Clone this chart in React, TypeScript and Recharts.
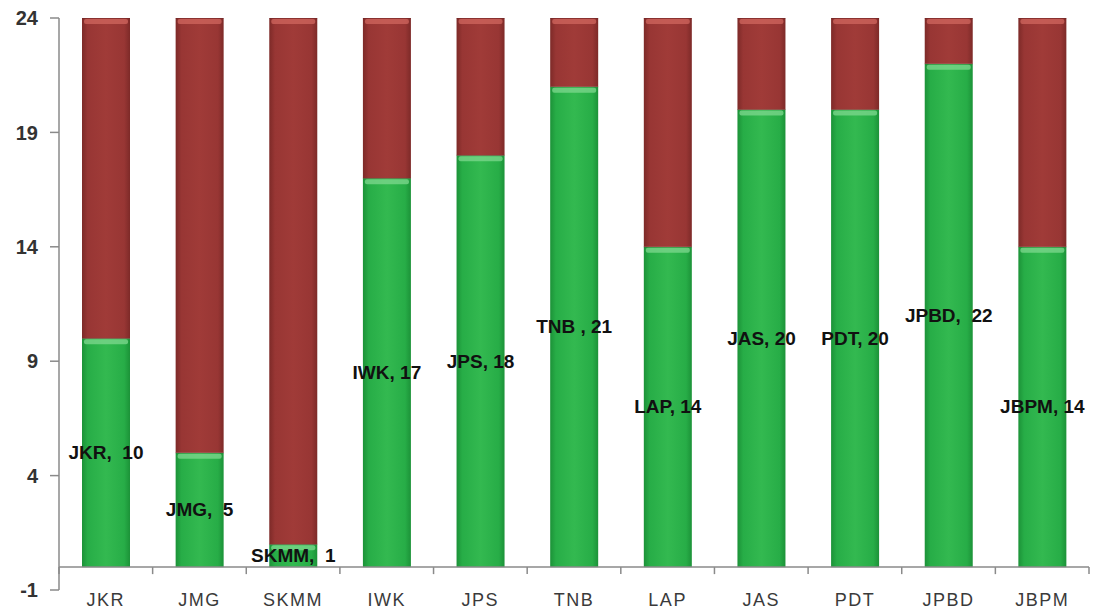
import { BarChart, Bar, XAxis, YAxis, ReferenceLine, LabelList } from 'recharts'

const categories = ['JKR', 'JMG', 'SKMM', 'IWK', 'JPS', 'TNB', 'LAP', 'JAS', 'PDT', 'JPBD', 'JBPM']
const greenValues = [10, 5, 1, 17, 18, 21, 14, 20, 20, 22, 14]
const redValues = [14, 19, 23, 7, 6, 3, 10, 4, 4, 2, 10]
const pointLabels = ['JKR,  10', 'JMG,  5', 'SKMM,  1', 'IWK, 17', 'JPS, 18', 'TNB , 21', 'LAP, 14', 'JAS, 20', 'PDT, 20', 'JPBD,  22', 'JBPM, 14']
const yTicks = [-1, 4, 9, 14, 19, 24]

const data = categories.map((name, i) => ({
  name,
  green: greenValues[i],
  red: redValues[i],
  label: pointLabels[i],
}))

const W = 1093
const H = 609
const M = { top: 18, right: 4, left: 0, bottom: 0 }
const Y_AXIS_W = 59
const X_AXIS_H = 19
const plotW = W - M.left - M.right - Y_AXIS_W
const plotH = H - M.top - M.bottom - X_AXIS_H
const band = plotW / categories.length
const unit = plotH / 25
const font = '"Liberation Sans", Arial, sans-serif'

function XTick(props: any) {
  const { x, y, payload, index } = props
  const yZero = y - unit
  const left = x - band / 2
  return (
    <g>
      <line x1={left} x2={left} y1={yZero} y2={yZero + 7} stroke="#8a8a8a" strokeWidth={1.5} />
      {index === categories.length - 1 && (
        <line x1={x + band / 2} x2={x + band / 2} y1={yZero} y2={yZero + 7} stroke="#8a8a8a" strokeWidth={1.5} />
      )}
      <text x={x} y={y} dy={16} textAnchor="middle" fontSize={18} letterSpacing={1.5} fill="#3a3a3a" fontFamily={font}>
        {payload.value}
      </text>
    </g>
  )
}

function BarLabel(props: any) {
  const { x, y, width, height, value } = props
  return (
    <text
      x={x + width / 2}
      y={y + height / 2}
      textAnchor="middle"
      dominantBaseline="central"
      fontSize={19}
      fontWeight={700}
      fill="#111"
      fontFamily={font}
      style={{ whiteSpace: 'pre' }}
    >
      {value}
    </text>
  )
}

function makeShape(grad: string, hi: string) {
  return (props: any) => {
    const { x, y, width, height } = props
    if (!height || height <= 0) return <g />
    return (
      <g>
        <rect x={x} y={y} width={width} height={height} fill={`url(#${grad})`} />
        <rect x={x + 2} y={y + 1} width={width - 4} height={Math.min(5, height - 1)} rx={2} fill={hi} opacity={0.75} />
        <line x1={x} x2={x + width} y1={y} y2={y} stroke="#5a2020" strokeWidth={1} opacity={0.5} />
      </g>
    )
  }
}

export default function App() {
  return (
    <div style={{ position: 'absolute', left: 0, top: 0, background: '#fff' }}>
      <BarChart width={W} height={H} data={data} margin={M} barSize={48}>
        <defs>
          <linearGradient id="gGreen" x1="0" y1="0" x2="1" y2="0">
            <stop offset="0%" stopColor="#1c9238" />
            <stop offset="12%" stopColor="#27ad47" />
            <stop offset="50%" stopColor="#33b950" />
            <stop offset="88%" stopColor="#27ad47" />
            <stop offset="100%" stopColor="#1c9238" />
          </linearGradient>
          <linearGradient id="gRed" x1="0" y1="0" x2="1" y2="0">
            <stop offset="0%" stopColor="#7d2a28" />
            <stop offset="12%" stopColor="#983634" />
            <stop offset="50%" stopColor="#a03b38" />
            <stop offset="88%" stopColor="#983634" />
            <stop offset="100%" stopColor="#7d2a28" />
          </linearGradient>
        </defs>
        <XAxis
          dataKey="name"
          height={X_AXIS_H}
          axisLine={false}
          tickLine={false}
          tickSize={0}
          tickMargin={0}
          interval={0}
          tick={<XTick />}
        />
        <YAxis
          type="number"
          domain={[-1, 24]}
          ticks={yTicks}
          width={Y_AXIS_W}
          axisLine={{ stroke: '#8a8a8a', strokeWidth: 1.5 }}
          tickLine={{ stroke: '#8a8a8a', strokeWidth: 1.5 }}
          tickSize={9}
          tickMargin={12}
          tick={{ fontSize: 20, fontWeight: 700, fill: '#333', fontFamily: font }}
          allowDataOverflow
        />
        <ReferenceLine y={0} stroke="#8a8a8a" strokeWidth={1.5} />
        <Bar dataKey="green" stackId="a" shape={makeShape('gGreen', '#7fd88f')} isAnimationActive={false}>
          <LabelList dataKey="label" content={<BarLabel />} />
        </Bar>
        <Bar dataKey="red" stackId="a" shape={makeShape('gRed', '#d0675f')} isAnimationActive={false} />
      </BarChart>
    </div>
  )
}
